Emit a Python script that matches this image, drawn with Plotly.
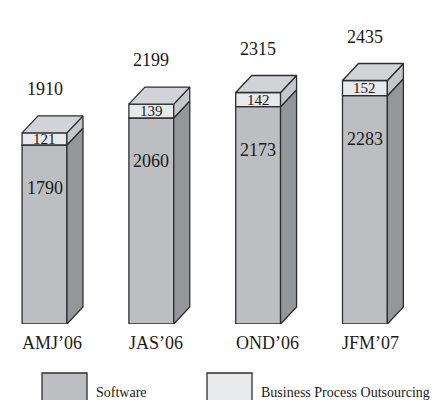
import plotly.graph_objects as go

# Quarterly headcount split by business line
quarters = ["AMJ’06", "JAS’06", "OND’06", "JFM’07"]
software = [1790, 2060, 2173, 2283]
bpo = [121, 139, 142, 152]
totals = [1910, 2199, 2315, 2435]

# Pseudo-3D box geometry (front width, depth offsets in axis units)
W = 0.42
DX = 0.15
DY = 170

EDGE = "#2e2e30"
SW_FRONT = "#bdbec2"
SW_SIDE = "#95969a"
BPO_FRONT = "#e8e9ea"
BPO_SIDE = "#c6c7ca"
TOP = "#d2d3d6"
FONT = "Liberation Serif"

fig = go.Figure()
xs = list(range(len(quarters)))

# Front faces
fig.add_bar(x=xs, y=software, width=W, name="Software",
            marker=dict(color=SW_FRONT, line=dict(color=EDGE, width=1.3)))
fig.add_bar(x=xs, y=bpo, base=software, width=W, name="Business Process Outsourcing",
            marker=dict(color=BPO_FRONT, line=dict(color=EDGE, width=1.3)))


def face(px, py, color):
    fig.add_scatter(x=px, y=py, mode="lines", fill="toself", fillcolor=color,
                    line=dict(color=EDGE, width=1.3), hoverinfo="skip",
                    showlegend=False)


# Side and top faces
for i, (s, b) in enumerate(zip(software, bpo)):
    xl, xr = i - W / 2, i + W / 2
    t = s + b
    face([xr, xr + DX, xr + DX, xr, xr], [0, DY, s + DY, s, 0], SW_SIDE)
    face([xr, xr + DX, xr + DX, xr, xr], [s, s + DY, t + DY, t, s], BPO_SIDE)
    face([xl, xl + DX, xr + DX, xr, xl], [t, t + DY, t + DY, t, t], TOP)

txt = dict(family=FONT, size=18, color="#1a1a1a")
small = dict(family=FONT, size=15, color="#1a1a1a")
ann = []
for i, (s, b, tot) in enumerate(zip(software, bpo, totals)):
    ann.append(dict(x=i, y=tot, yshift=44, text=str(tot), showarrow=False, font=txt))
    ann.append(dict(x=i, y=s, yshift=-43, text=str(s), showarrow=False, font=txt))
    ann.append(dict(x=i, y=s + b / 2, text=str(b), showarrow=False, font=small))
    ann.append(dict(x=i - W / 2 - 0.02, xanchor="left", y=-0.0633, yref="paper",
                    yanchor="middle", text=quarters[i], showarrow=False, font=txt))

# Legend drawn below the chart
leg_font = dict(family=FONT, size=14, color="#1a1a1a")
legend_items = [("Software", SW_FRONT, 42), ("Business Process Outsourcing", BPO_FRONT, 207)]
shapes = []
for label, color, px in legend_items:
    shapes.append(dict(type="rect", xref="paper", yref="paper",
                       x0=px / 435, x1=(px + 45) / 435, y0=-0.29, y1=-0.1633,
                       fillcolor=color, line=dict(color=EDGE, width=1.3)))
    ann.append(dict(x=(px + 52) / 435, xref="paper", xanchor="left", y=-0.2267,
                    yref="paper", yanchor="middle", text=label, showarrow=False,
                    font=leg_font))

fig.update_layout(
    width=435, height=400, autosize=False,
    margin=dict(l=0, r=0, t=24, b=76),
    barmode="overlay", showlegend=False,
    plot_bgcolor="white", paper_bgcolor="white",
    xaxis=dict(range=[-0.4167, 3.656], visible=False),
    yaxis=dict(range=[0, 3000], visible=False),
    annotations=ann, shapes=shapes,
)

fig.write_html("out.html")
